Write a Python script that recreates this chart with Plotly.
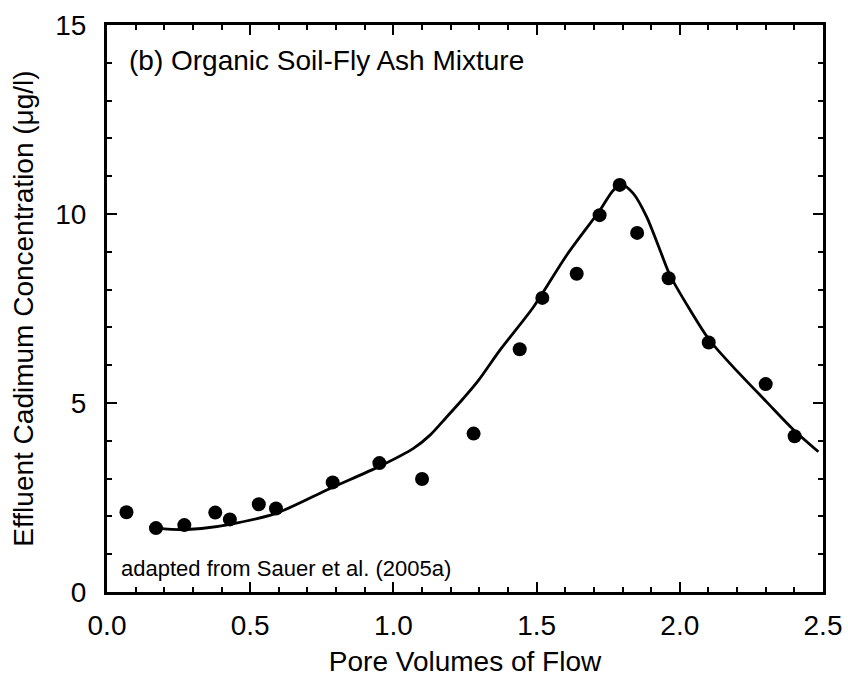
import plotly.graph_objects as go

# Measured points
pv_obs = [0.068, 0.171, 0.270, 0.378, 0.429, 0.530, 0.590, 0.788, 0.951, 1.100,
          1.280, 1.441, 1.520, 1.640, 1.720, 1.790, 1.851, 1.961, 2.101, 2.300, 2.401]
cd_obs = [2.11, 1.69, 1.77, 2.10, 1.92, 2.32, 2.21, 2.90, 3.41, 2.99,
          4.19, 6.42, 7.78, 8.42, 9.97, 10.77, 9.50, 8.30, 6.60, 5.50, 4.12]

# Model curve
pv_fit = [0.150, 0.200, 0.255, 0.330, 0.430, 0.590, 0.779, 0.953, 1.070, 1.128,
          1.186, 1.244, 1.297, 1.372, 1.489, 1.605, 1.721, 1.768, 1.797, 1.838,
          1.884, 1.931, 1.966, 2.036, 2.104, 2.187, 2.303, 2.396, 2.484]
cd_fit = [1.74, 1.67, 1.65, 1.68, 1.79, 2.08, 2.74, 3.33, 3.80, 4.15,
          4.63, 5.12, 5.60, 6.40, 7.54, 8.91, 10.10, 10.63, 10.77, 10.54,
          9.93, 9.04, 8.38, 7.46, 6.66, 5.95, 5.03, 4.30, 3.71]

FONT = "Liberation Sans, Arial, sans-serif"

fig = go.Figure()
fig.add_trace(go.Scatter(x=pv_fit, y=cd_fit, mode="lines",
                         line=dict(color="black", width=2.8, shape="spline", smoothing=0.8),
                         showlegend=False))
fig.add_trace(go.Scatter(x=pv_obs, y=cd_obs, mode="markers", marker=dict(color="black", size=14),
                         showlegend=False))

fig.update_layout(
    width=848, height=677,
    margin=dict(l=107, r=25, t=25, b=85),
    paper_bgcolor="white", plot_bgcolor="white",
    font=dict(family=FONT, color="black", size=28),
    xaxis=dict(range=[0, 2.5], tickvals=[0, 0.5, 1.0, 1.5, 2.0, 2.5],
               ticktext=["0.0", "0.5", "1.0", "1.5", "2.0", "2.5"],
               ticks="inside", ticklen=10, tickwidth=2, tickcolor="black",
               minor=dict(dtick=0.1, tick0=0, ticks="inside", ticklen=5, tickwidth=2, tickcolor="black"),
               showline=True, linewidth=3, linecolor="black", mirror="ticks",
               showgrid=False, zeroline=False, automargin=False,
               tickfont=dict(size=28), ticklabelstandoff=6,
               title=dict(text="Pore Volumes of Flow", font=dict(size=28), standoff=12)),
    yaxis=dict(range=[0, 15], tickvals=[0, 5, 10, 15],
               ticks="inside", ticklen=10, tickwidth=2, tickcolor="black",
               minor=dict(dtick=1, tick0=0, ticks="inside", ticklen=5, tickwidth=2, tickcolor="black"),
               showline=True, linewidth=3, linecolor="black", mirror="ticks",
               showgrid=False, zeroline=False, automargin=False,
               tickfont=dict(size=28), ticklabelstandoff=12,
               title=dict(text="Effluent Cadimum Concentration (μg/l)", font=dict(size=28), standoff=14)),
    annotations=[
        dict(text="(b) Organic Soil-Fly Ash Mixture", xref="paper", yref="paper", x=0.028, y=0.968,
             xanchor="left", yanchor="top", showarrow=False, font=dict(size=28)),
        dict(text="adapted from Sauer et al. (2005a)", xref="paper", yref="paper", x=0.017, y=0.015,
             xanchor="left", yanchor="bottom", showarrow=False, font=dict(size=22)),
    ],
)

fig.write_html("out.html")
